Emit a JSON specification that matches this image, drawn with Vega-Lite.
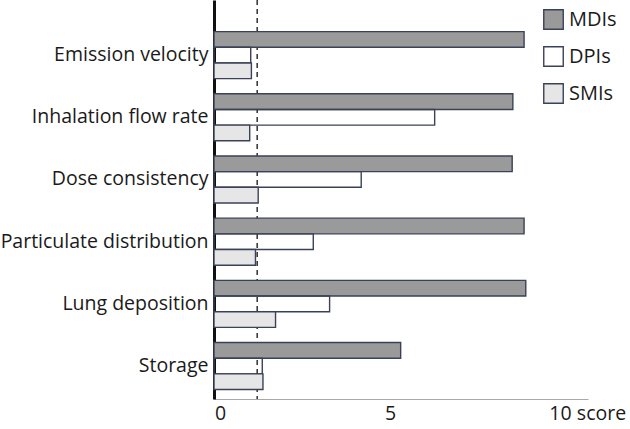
{
  "$schema": "https://vega.github.io/schema/vega-lite/v6.json",
  "width": 374,
  "height": 399,
  "autosize": {"type": "none"},
  "padding": {"left": 214, "top": 0, "right": 42, "bottom": 30},
  "background": "white",
  "config": {
    "font": "Open Sans",
    "view": {"stroke": null}
  },
  "layer": [
    {
      "data": {"values": [{"threshold": 1.27}]},
      "mark": {"type": "rule", "color": "#222222", "strokeWidth": 1.4, "strokeDash": [5, 4]},
      "encoding": {
        "x": {"field": "threshold", "type": "quantitative", "scale": {"domain": [0, 11]}}
      }
    },
    {
      "data": {
        "values": [
          {"criterion": "Emission velocity", "inhaler": "MDIs", "score": 9.12},
          {"criterion": "Emission velocity", "inhaler": "DPIs", "score": 1.08},
          {"criterion": "Emission velocity", "inhaler": "SMIs", "score": 1.1},
          {"criterion": "Inhalation flow rate", "inhaler": "MDIs", "score": 8.79},
          {"criterion": "Inhalation flow rate", "inhaler": "DPIs", "score": 6.49},
          {"criterion": "Inhalation flow rate", "inhaler": "SMIs", "score": 1.05},
          {"criterion": "Dose consistency", "inhaler": "MDIs", "score": 8.77},
          {"criterion": "Dose consistency", "inhaler": "DPIs", "score": 4.33},
          {"criterion": "Dose consistency", "inhaler": "SMIs", "score": 1.3},
          {"criterion": "Particulate distribution", "inhaler": "MDIs", "score": 9.12},
          {"criterion": "Particulate distribution", "inhaler": "DPIs", "score": 2.92},
          {"criterion": "Particulate distribution", "inhaler": "SMIs", "score": 1.22},
          {"criterion": "Lung deposition", "inhaler": "MDIs", "score": 9.17},
          {"criterion": "Lung deposition", "inhaler": "DPIs", "score": 3.4},
          {"criterion": "Lung deposition", "inhaler": "SMIs", "score": 1.81},
          {"criterion": "Storage", "inhaler": "MDIs", "score": 5.49},
          {"criterion": "Storage", "inhaler": "DPIs", "score": 1.42},
          {"criterion": "Storage", "inhaler": "SMIs", "score": 1.44}
        ]
      },
      "mark": {"type": "bar", "stroke": "#3b4258", "strokeWidth": 1.4},
      "encoding": {
        "y": {
          "field": "criterion",
          "type": "nominal",
          "sort": null,
          "scale": {"paddingInner": 0.244, "paddingOuter": 0.33, "align": 0.77},
          "axis": {
            "title": null,
            "domainColor": "#111111",
            "domainWidth": 3,
            "ticks": false,
            "labelFontSize": 19.5,
            "labelColor": "#1a1a1a",
            "labelPadding": 6,
            "labelLimit": 300
          }
        },
        "yOffset": {"field": "inhaler", "type": "nominal", "sort": ["MDIs", "DPIs", "SMIs"]},
        "x": {
          "field": "score",
          "type": "quantitative",
          "scale": {"domain": [0, 11]},
          "axis": {
            "values": [0, 5, 10],
            "grid": false,
            "ticks": false,
            "domainColor": "#a8a8a8",
            "domainWidth": 1,
            "labelFontSize": 19.5,
            "labelColor": "#1a1a1a",
            "labelPadding": 5,
            "labelOffset": 6,
            "labelFlush": false,
            "title": "score",
            "titleFontSize": 19.5,
            "titleFontWeight": "normal",
            "titleColor": "#1a1a1a",
            "titleX": 387,
            "titleY": 5,
            "titleBaseline": "top",
            "titleAlign": "center"
          }
        },
        "fill": {
          "field": "inhaler",
          "type": "nominal",
          "scale": {"domain": ["MDIs", "DPIs", "SMIs"], "range": ["#9a9a9a", "rgba(255,255,255,0)", "#e6e6e6"]},
          "legend": {
            "title": null,
            "orient": "none",
            "legendX": 329,
            "legendY": 9,
            "padding": 0,
            "symbolType": "square",
            "symbolSize": 380,
            "symbolStrokeColor": "#3b4258",
            "symbolStrokeWidth": 1.4,
            "labelFontSize": 20,
            "labelColor": "#1a1a1a",
            "labelOffset": 5,
            "rowPadding": 10
          }
        }
      }
    }
  ]
}
